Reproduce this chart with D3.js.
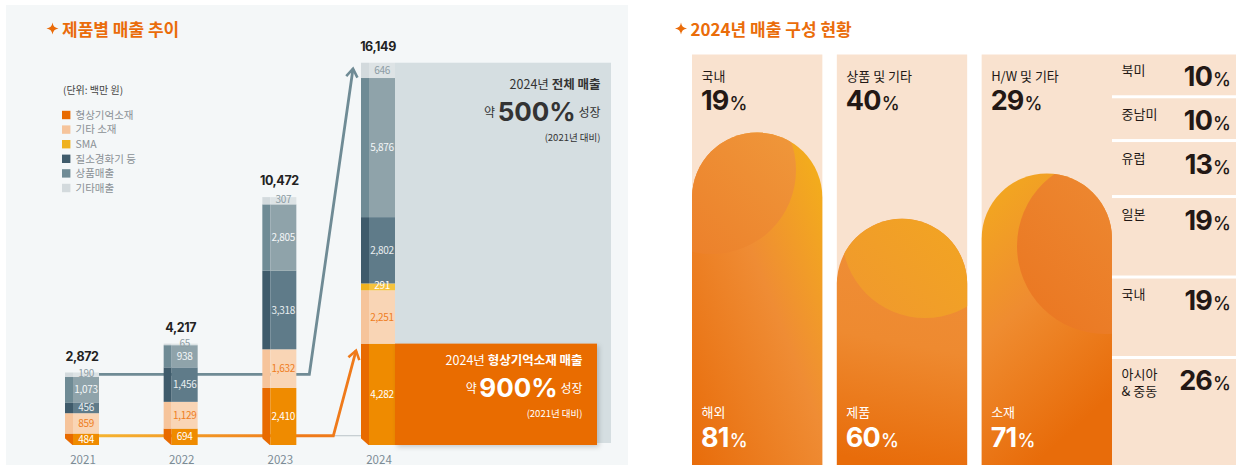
<!DOCTYPE html>
<html><head><meta charset="utf-8">
<script src="https://cdn.jsdelivr.net/npm/d3@7"></script>
<style>
html,body{margin:0;padding:0;background:#fff;}
svg{display:block;font-family:"Noto Sans CJK KR","Noto Sans",sans-serif;}
.num{font-family:Inter,"Noto Sans CJK KR",sans-serif;}
</style></head>
<body><svg id="c" width="1236" height="468"></svg>
<script>
// ---------- data ----------
const years = ["2021", "2022", "2023", "2024"];
const totals = [2872, 4217, 10472, 16149];
const seriesNames = ["형상기억소재", "기타 소재", "SMA", "질소경화기 등", "상품매출", "기타매출"];
const shapeMemory = [484, 694, 2410, 4282];
const otherMaterial = [859, 1129, 1632, 2251];
const sma = [0, 0, 0, 291];
const nitrogen = [456, 1456, 3318, 2802];
const goods = [1073, 938, 2805, 5876];
const otherSales = [190, 65, 307, 646];

const compTopLabels = ["국내", "상품 및 기타", "H/W 및 기타"];
const compTopValues = [19, 40, 29];
const compBottomLabels = ["해외", "제품", "소재"];
const compBottomValues = [81, 60, 71];
const regionNames = ["북미", "중남미", "유럽", "일본", "국내", "아시아|& 중동"];
const regionValues = [10, 10, 13, 19, 19, 26];

// ---------- styles ----------
const darkCols = ["#e86a00", "#f6c49b", "#efb21f", "#3f5b6b", "#6f8b95", "#d3dadd"];
const mainCols = ["#ef8b00", "#f9d5b5", "#f5c33d", "#5f7b89", "#8fa3aa", "#dde3e5"];
const labelCols = ["#ffffff", "#ef7d22", "#ffffff", "#e9eef0", "#f4f7f8", "#8c9ca4"];
const ORANGE = "#ea6c0a";
const BG = "#f4f7f8";

const svg = d3.select("#c");
const defs = svg.append("defs");
const fmt = d3.format(",");

// left panel background
svg.append("rect").attr("x", 6).attr("y", 5).attr("width", 622).attr("height", 460).attr("fill", BG);

// sparkle
function sparkle(g, cx, cy) {
  g.append("path")
    .attr("d", "M0,-6 Q0.7,-0.7 6,0 Q0.7,0.7 0,6 Q-0.7,0.7 -6,0 Q-0.7,-0.7 0,-6Z")
    .attr("transform", `translate(${cx},${cy})`).attr("fill", ORANGE);
}
sparkle(svg, 52.5, 28.5);
svg.append("text").attr("x", 62).attr("y", 35.5).attr("font-size", 17).attr("font-weight", 700)
  .attr("fill", ORANGE).text("제품별 매출 추이");
sparkle(svg, 681, 28.5);
svg.append("text").attr("x", 690.5).attr("y", 35.5).attr("font-size", 17).attr("font-weight", 700)
  .attr("fill", ORANGE).text("2024년 매출 구성 현황");

// legend
svg.append("text").attr("x", 63).attr("y", 94).attr("font-size", 10).attr("fill", "#444").text("(단위: 백만 원)");
const lg = svg.append("g");
seriesNames.forEach((n, i) => {
  const cy = 115 + i * 14.6;
  lg.append("rect").attr("x", 62).attr("y", cy - 4.2).attr("width", 8.4).attr("height", 8.4).attr("fill", darkCols[i]);
  lg.append("text").attr("x", 75.5).attr("y", cy + 3.7).attr("font-size", 10.5).attr("fill", "#8a9095").text(n);
});

// scales
const x = d3.scalePoint().domain(years).range([82, 378]);
const y = d3.scaleLinear().domain([0, 16149]).range([445, 62.7]);
const BW = 34, STRIP = 8;

const table = years.map((yr, i) => ({
  year: yr, s0: shapeMemory[i], s1: otherMaterial[i], s2: sma[i], s3: nitrogen[i], s4: goods[i], s5: otherSales[i]
}));
const keys = ["s0", "s1", "s2", "s3", "s4", "s5"];
const stacked = d3.stack().keys(keys)(table);
const sums = table.map(d => keys.reduce((a, k) => a + d[k], 0));

// gray box (2024 total)
const shadow = defs.append("filter").attr("id", "sh").attr("x", "-10%").attr("y", "-10%").attr("width", "130%").attr("height", "130%");
shadow.append("feDropShadow").attr("dx", 2).attr("dy", 2).attr("stdDeviation", 2.5).attr("flood-color", "#000").attr("flood-opacity", 0.18);

const x24 = x("2024");
svg.append("rect").attr("x", x24 + BW / 2).attr("y", y(sums[3])).attr("width", 611 - (x24 + BW / 2))
  .attr("height", y(0) - 2 - y(sums[3])).attr("fill", "#d5dee1");

// lines (behind bars)
const lineGrad = defs.append("linearGradient").attr("id", "lg").attr("gradientUnits", "userSpaceOnUse")
  .attr("x1", 100).attr("x2", 300).attr("y1", 0).attr("y2", 0);
lineGrad.append("stop").attr("offset", 0).attr("stop-color", "#f5b330");
lineGrad.append("stop").attr("offset", 1).attr("stop-color", "#ef7a1a");

function arrowHead(g, p1, p2, color) {
  const a = Math.atan2(p2[1] - p1[1], p2[0] - p1[0]);
  const L = 10, sp = 0.6;
  const pts = [
    [p2[0] - L * Math.cos(a - sp), p2[1] - L * Math.sin(a - sp)],
    p2,
    [p2[0] - L * Math.cos(a + sp), p2[1] - L * Math.sin(a + sp)]
  ];
  g.append("path").attr("d", d3.line()(pts)).attr("fill", "none").attr("stroke", color)
    .attr("stroke-width", 2.6).attr("stroke-linejoin", "miter");
}

const gy = y(sums[0]) + 1.8;
const grayPts = [[x("2021"), gy], [x("2023") + 30, gy], [x24 - 25, y(sums[3]) + 6]];
svg.append("path").attr("d", d3.line()(grayPts)).attr("fill", "none").attr("stroke", "#6f8b95").attr("stroke-width", 2.8);
arrowHead(svg, grayPts[1], grayPts[2], "#6f8b95");

const oy = y(shapeMemory[0]) + 2.2;
svg.append("line").attr("x1", x("2023") + 54).attr("x2", x24).attr("y1", oy).attr("y2", oy)
  .attr("stroke", "#b9c3c7").attr("stroke-width", 1);
const orPts = [[x("2021"), oy], [x("2023") + 54, oy], [x24 - 22, y(shapeMemory[3]) + 7]];
svg.append("path").attr("d", d3.line()(orPts)).attr("fill", "none").attr("stroke", "url(#lg)").attr("stroke-width", 2.8);
arrowHead(svg, orPts[1], orPts[2], "#ef7a1a");

// bars
const barG = svg.append("g");
stacked.forEach((layer, si) => {
  layer.forEach((d, i) => {
    const h = y(d[0]) - y(d[1]);
    if (h <= 0) return;
    const cx = x(years[i]);
    barG.append("rect").attr("x", cx - BW / 2).attr("y", y(d[1])).attr("width", STRIP).attr("height", h).attr("fill", darkCols[si]);
    barG.append("rect").attr("x", cx - BW / 2 + STRIP).attr("y", y(d[1])).attr("width", BW - STRIP).attr("height", h).attr("fill", mainCols[si]);
  });
});
// chamfer at bottom-left of bars
years.forEach(yr => {
  const x0 = x(yr) - BW / 2;
  barG.append("path").attr("d", `M${x0 - 1},${y(0) - 7.5}L${x0 + STRIP},${y(0) + 0.5}L${x0 - 1},${y(0) + 0.5}Z`).attr("fill", BG);
});

// orange box (2024 shape memory)
svg.append("rect").attr("x", x24 + BW / 2).attr("y", y(shapeMemory[3])).attr("width", 597 - (x24 + BW / 2))
  .attr("height", y(0) - y(shapeMemory[3])).attr("fill", "#e96c00").attr("filter", "url(#sh)");

// segment labels
stacked.forEach((layer, si) => {
  layer.forEach((d, i) => {
    const v = d[1] - d[0];
    if (v <= 0) return;
    const h = y(d[0]) - y(d[1]);
    const shift = h < 8 ? -1.5 : 0;
    svg.append("text").attr("x", x(years[i]) + 4).attr("y", (y(d[0]) + y(d[1])) / 2 + 3.6 + shift)
      .attr("text-anchor", "middle").attr("font-size", 10).attr("fill", labelCols[si])
      .attr("letter-spacing", -0.3).text(fmt(v));
  });
});
// total labels
years.forEach((yr, i) => {
  svg.append("text").attr("class", "num").attr("x", x(yr)).attr("y", y(sums[i]) - 12).attr("text-anchor", "middle")
    .attr("font-size", 12.5).attr("font-weight", 700).attr("fill", "#222").attr("letter-spacing", -0.4).text(fmt(totals[i]));
  svg.append("text").attr("x", x(yr) + 1).attr("y", 463.5).attr("text-anchor", "middle")
    .attr("font-size", 11.5).attr("fill", "#7c8c96").text(yr);
});

// annotation texts
function growth(tx, ty, color, lines) {
  const g = svg.append("g").attr("fill", color).attr("text-anchor", "end");
  const t1 = g.append("text").attr("x", tx).attr("y", ty).attr("font-size", 12.5);
  t1.append("tspan").text(lines[0]);
  t1.append("tspan").attr("font-weight", 700).text(lines[1]);
  const t2 = g.append("text").attr("x", tx).attr("y", ty + 32);
  t2.append("tspan").attr("font-size", 12).attr("dy", -4).text("약 ");
  t2.append("tspan").attr("class", "num").attr("font-size", 26).attr("font-weight", 700).attr("dy", 4).text(lines[2]);
  t2.append("tspan").attr("font-size", 12).attr("dy", -4).text(" 성장");
  g.append("text").attr("x", tx).attr("y", ty + 52).attr("font-size", 9.5).text("(2021년 대비)");
}
growth(600.5, 88.5, "#333", ["2024년 ", "전체 매출", "500%"]);
growth(582.5, 365, "#fff", ["2024년 ", "형상기억소재 매출", "900%"]);

// ---------- right panel ----------
const colX = d3.scaleBand().domain([0, 1, 2]).range([692, 1112]).paddingInner(14 / 140).paddingOuter(0);
const colW = colX.bandwidth();
const colTop = 54.5, colBot = 465;
const pct = d3.scaleLinear().domain([0, 100]).range([colBot, colTop]);
const PEACH = "#f9e2cf";
const DARK = "#231815";

const archGrads = [
  { dir: [1, 0, 0, 1], stops: [["#f4b317", 0], ["#ef8c34", 0.45], ["#e86c0a", 1]] },
  { dir: [0.5, 0, 0.4, 1], stops: [["#ef8f38", 0], ["#ee8a30", 0.5], ["#e86c0a", 1]] },
  { dir: [0, 0, 0.4, 1], stops: [["#f3ac1d", 0], ["#ef8c30", 0.5], ["#e86c0a", 1]] }
];
const circleDefs = [
  { cx: 712, cy: 170, r: 84, c1: "#f09c3e", c2: "#eb7a26" },
  { cx: 925, cy: 235, r: 83, c1: "#f3ab1c", c2: "#f0982e" },
  { cx: 1105, cy: 246, r: 88, c1: "#ee9038", c2: "#ea7520" }
];

function pctText(sel, value, color, anchor) {
  const t = sel.attr("fill", color).attr("text-anchor", anchor || "start");
  t.append("tspan").attr("class", "num").attr("font-size", 27).attr("font-weight", 700).attr("letter-spacing", -0.8).text(value);
  t.append("tspan").attr("class", "num").attr("font-size", 18).attr("font-weight", 500).attr("dx", 1).text("%");
}

[0, 1, 2].forEach(i => {
  const x0 = colX(i), x1 = x0 + colW, r = colW / 2;
  svg.append("rect").attr("x", x0).attr("y", colTop).attr("width", colW).attr("height", colBot - colTop).attr("fill", PEACH);
  const top = pct(compBottomValues[i]);
  const path = d3.path();
  path.moveTo(x0, colBot);
  path.lineTo(x0, top + r);
  path.arc(x0 + r, top + r, r, Math.PI, 2 * Math.PI);
  path.lineTo(x1, colBot);
  path.closePath();
  const gd = archGrads[i];
  const lgd = defs.append("linearGradient").attr("id", "ag" + i)
    .attr("x1", gd.dir[0]).attr("y1", gd.dir[1]).attr("x2", gd.dir[2]).attr("y2", gd.dir[3]);
  gd.stops.forEach(s => lgd.append("stop").attr("offset", s[1]).attr("stop-color", s[0]));
  defs.append("clipPath").attr("id", "cp" + i).append("path").attr("d", path.toString());
  svg.append("path").attr("d", path.toString()).attr("fill", `url(#ag${i})`);
  const cd = circleDefs[i];
  const cg = defs.append("linearGradient").attr("id", "cg" + i).attr("x1", 1).attr("y1", 0).attr("x2", 0).attr("y2", 1);
  cg.append("stop").attr("offset", 0).attr("stop-color", cd.c1);
  cg.append("stop").attr("offset", 1).attr("stop-color", cd.c2);
  svg.append("circle").attr("cx", cd.cx).attr("cy", cd.cy).attr("r", cd.r).attr("fill", `url(#cg${i})`)
    .attr("clip-path", `url(#cp${i})`);

  // texts
  svg.append("text").attr("x", x0 + 9.5).attr("y", 81).attr("font-size", 13).attr("fill", DARK).text(compTopLabels[i]);
  pctText(svg.append("text").attr("x", x0 + 9).attr("y", 110), compTopValues[i], DARK);
  svg.append("text").attr("x", x0 + 9.5).attr("y", 417).attr("font-size", 13).attr("fill", "#fff").text(compBottomLabels[i]);
  pctText(svg.append("text").attr("x", x0 + 9).attr("y", 446.5), compBottomValues[i], "#fff");
});

// region rows
const GAP = 3;
const totalR = d3.sum(regionValues);
const rowScale = d3.scaleLinear().domain([0, totalR]).range([0, (colBot - colTop) - GAP * (regionValues.length - 1)]);
let cy = colTop;
regionValues.forEach((v, i) => {
  const h = rowScale(v);
  svg.append("rect").attr("x", 1112).attr("y", cy).attr("width", 124).attr("height", h).attr("fill", PEACH);
  const parts = regionNames[i].split("|");
  const lt = svg.append("text").attr("x", 1121.5).attr("y", cy + 20.5).attr("font-size", 13).attr("fill", DARK);
  parts.forEach((p, j) => {
    lt.append("tspan").attr("x", 1121.5).attr("dy", j === 0 ? 0 : 17).text(p);
  });
  pctText(svg.append("text").attr("x", 1231).attr("y", cy + 31.5), v, DARK, "end");
  cy += h + GAP;
});
</script></body></html>
